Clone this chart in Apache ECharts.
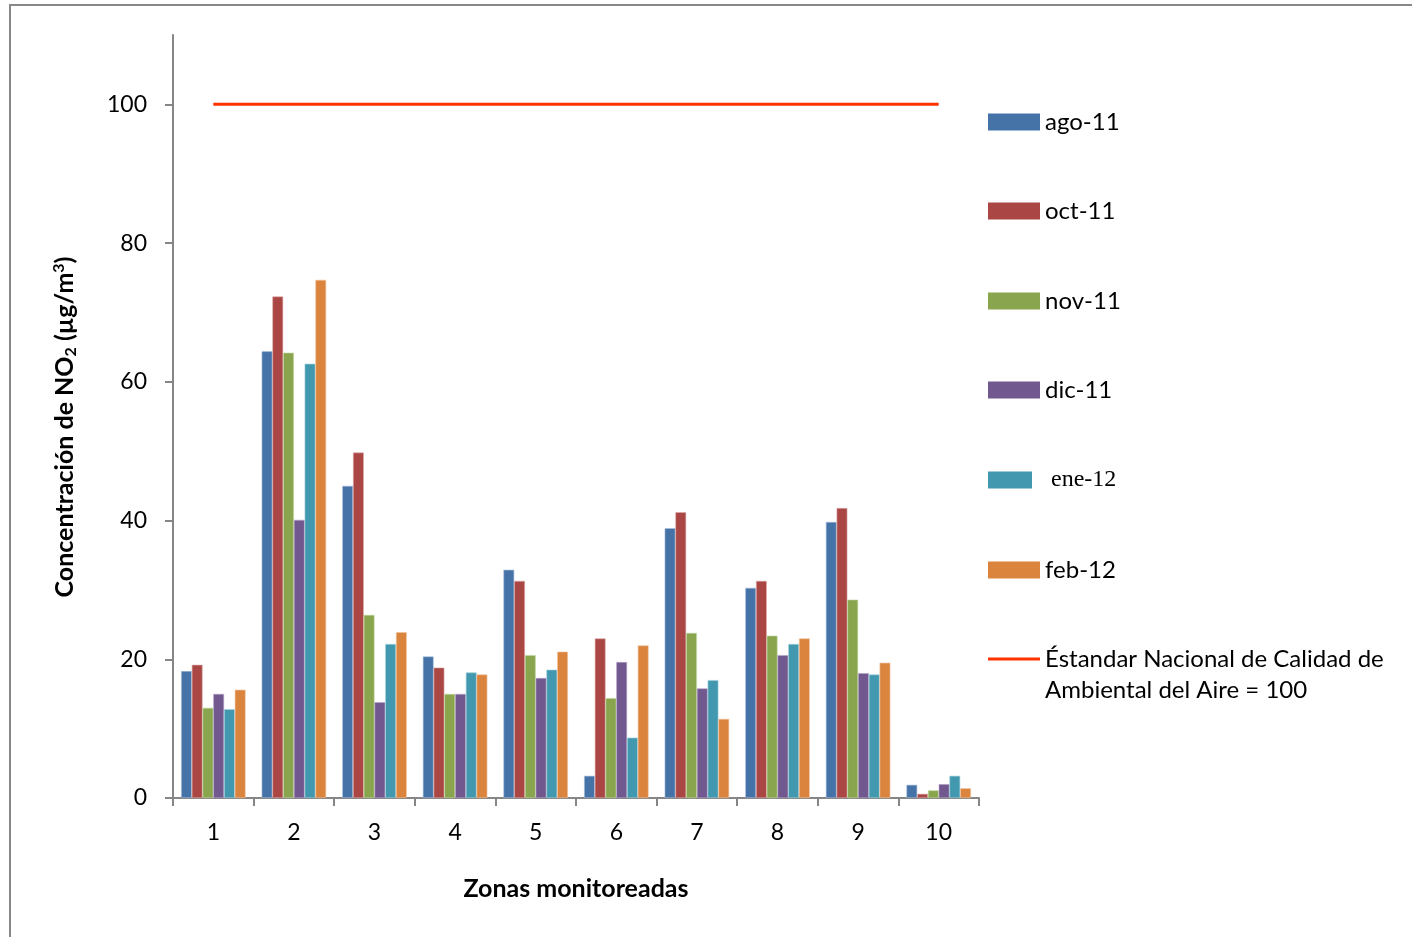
<!DOCTYPE html>
<html>
<head>
<meta charset="utf-8">
<script src="https://cdn.jsdelivr.net/npm/echarts@6/dist/echarts.min.js"></script>
<style>html,body{margin:0;padding:0;background:#fff}#c{width:1412px;height:937px}</style>
</head>
<body>
<div id="c"></div>
<script>
const categories = ['1','2','3','4','5','6','7','8','9','10'];
const seriesNames = ['ago-11','oct-11','nov-11','dic-11','ene-12','feb-12'];
const ago11 = [18.3, 64.4, 45.0, 20.4, 32.9, 3.2, 38.9, 30.3, 39.8, 1.9];
const oct11 = [19.2, 72.3, 49.8, 18.8, 31.3, 23.0, 41.2, 31.3, 41.8, 0.6];
const nov11 = [13.0, 64.2, 26.4, 15.0, 20.6, 14.4, 23.8, 23.4, 28.6, 1.1];
const dic11 = [15.0, 40.1, 13.8, 15.0, 17.3, 19.6, 15.8, 20.6, 18.0, 2.0];
const ene12 = [12.8, 62.6, 22.2, 18.1, 18.5, 8.7, 17.0, 22.2, 17.8, 3.2];
const feb12 = [15.6, 74.7, 23.9, 17.8, 21.1, 22.0, 11.4, 23.0, 19.5, 1.4];
const standardName = 'Éstandar Nacional de Calidad de';
const standardLine2 = 'Ambiental del Aire = 100';
const standard = [100,100,100,100,100,100,100,100,100,100];
const yTicks = [0,20,40,60,80,100];

const colors = ['#4572A7','#AA4643','#89A54E','#71588F','#4198AF','#DB843D'];
const borders = ['#a9bfdb','#dba9a7','#c5d6a4','#b5a6c8','#a6d0db','#f0c29d'];
const values = [ago11, oct11, nov11, dic11, ene12, feb12];
const font = 'Lato, "Open Sans", sans-serif';

const barSeries = seriesNames.map((n,i)=>({
  name:n, type:'bar', data:values[i], barGap:'0%', barCategoryGap:'20%',
  itemStyle:{color:colors[i], borderColor:borders[i], borderWidth:0.6},
  emphasis:{disabled:true}, animation:false
}));
const lineSeries = {
  name:standardName, type:'line', data:standard, symbol:'none', z:5,
  lineStyle:{color:'#FF3300', width:3}, itemStyle:{color:'#FF3300'}, animation:false
};

const legendY = [122,211,301,390,480,570,659];
const legends = seriesNames.concat([standardName]).map((n,i)=>{
  const isEne = n==='ene-12';
  const isLine = i===6;
  return {
    data:[isLine?{name:n, icon:'path://M0,0 L52,0 L52,3 L0,3 Z'}:{name:n, icon:'rect'}],
    left: 988, top: legendY[i]-13, padding:0, orient:'horizontal',
    itemWidth: isEne?44:52, itemHeight: isLine?3:17, itemGap:0,
    itemStyle:{borderWidth:0},
    selectedMode:false,
    textStyle:{fontFamily: isEne?'"Liberation Serif", "DejaVu Serif", serif':font,
      fontSize: 24, color:'#000', lineHeight:26,
      padding: isEne?[0,0,0,14]:[0,0,0,0]}
  };
});

const option = {
  backgroundColor:'#fff',
  animation:false,
  color: colors.concat(['#FF3300']),
  grid:{left:173, right:433, top:35, bottom:139, containLabel:false},
  legend: legends,
  xAxis:{
    type:'category', data:categories, boundaryGap:true,
    axisLine:{lineStyle:{color:'#868686', width:2}},
    axisTick:{show:true, alignWithLabel:false, length:8, lineStyle:{color:'#868686', width:2}},
    axisLabel:{fontFamily:font, fontSize:23, color:'#000', margin:23},
    name:'Zonas monitoreadas', nameLocation:'middle', nameGap:78,
    nameTextStyle:{fontFamily:font, fontSize:25, fontWeight:'bold', color:'#000'}
  },
  yAxis:{
    type:'value', min:0, max:110, interval:20,
    splitLine:{show:false},
    axisLine:{show:true, lineStyle:{color:'#868686', width:2}},
    axisTick:{show:true, length:8, customValues:yTicks, lineStyle:{color:'#868686', width:2}},
    axisLabel:{fontFamily:font, fontSize:23, color:'#000', margin:26, customValues:yTicks,
      formatter:v=> v>100?'':String(v)}
  },
  graphic:[
    {type:'rect', shape:{x:10, y:5, width:1420, height:960}, style:{fill:'none', stroke:'#888', lineWidth:2}, silent:true, z:-10},
    {type:'text', x:65, y:427, rotation:Math.PI/2, silent:true,
      style:{text:'{b|Concentración de NO}{s|2}{b| (µg/m}{p|3}{b|)}', align:'center', verticalAlign:'middle',
        rich:{
          b:{fontFamily:font, fontSize:25, fontWeight:'bold', fill:'#000'},
          s:{fontFamily:font, fontSize:16, fontWeight:'bold', fill:'#000', padding:[12,0,0,0]},
          p:{fontFamily:font, fontSize:16, fontWeight:'bold', fill:'#000', padding:[0,0,12,0]}
        }}},
    {type:'text', left:1045, top:678, silent:true,
      style:{text:standardLine2, fontFamily:font, fontSize:24, fill:'#000'}}
  ],
  series: barSeries.concat([lineSeries])
};
const chart = echarts.init(document.getElementById('c'), null, {renderer:'canvas'});
chart.setOption(option);
</script>
</body>
</html>
